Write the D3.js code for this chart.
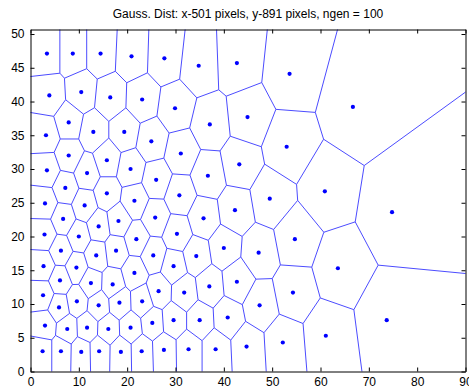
<!DOCTYPE html>
<html>
<head>
<meta charset="utf-8">
<script src="https://cdn.jsdelivr.net/npm/d3@7"></script>
<style>
  body { margin: 0; background: #fff; }
  svg { display: block; font-family: "Liberation Sans", Arial, sans-serif; }
</style>
</head>
<body>
<div id="chart"></div>
<script>
const TITLE = 'Gauss. Dist: x-501 pixels, y-891 pixels, ngen = 100';

// generator points
const ptX = [
  3.4, 8.75, 14.5, 20.9, 27.7, 3.9, 10.5, 16.5, 23.1, 29.9,
  3.2, 7.9, 13.0, 19.4, 25.0, 7.9, 15.8, 3.4, 11.7, 20.7,
  26.0, 7.2, 15.8, 21.5, 3.0, 11.2, 25.8, 6.75, 14.1, 18.2,
  30.3, 2.9, 10.0, 21.9, 6.3, 13.6, 17.7, 25.4, 2.7, 9.5,
  21.5, 29.6, 6.1, 12.5, 17.0, 26.5, 2.6, 9.6, 5.9, 14.1,
  18.4, 23.1, 29.6, 3.0, 7.6, 11.7, 16.1, 20.7, 25.2, 2.5,
  6.3, 10.5, 14.2, 18.7, 23.0, 27.6, 34.8, 42.7, 53.6, 37.1,
  44.9, 53.0, 31.1, 43.2, 36.7, 30.8, 49.5, 42.3, 35.8, 54.7,
  40.0, 34.3, 47.2, 42.7, 37.0, 31.8, 54.3, 47.4, 35.0, 40.8,
  52.2, 32.7, 38.3, 44.7, 66.7, 60.9, 74.8, 63.6, 73.7, 61.1
];
const ptY = [
  47.1, 47.1, 47.1, 46.7, 46.4, 40.9, 41.4, 40.6, 40.3, 39.0,
  35.0, 36.9, 35.5, 35.5, 34.1, 32.0, 31.3, 29.8, 29.4, 30.0,
  28.4, 27.2, 26.4, 25.3, 24.9, 24.6, 22.8, 22.6, 21.5, 22.3,
  20.4, 20.3, 20.0, 19.6, 17.9, 17.2, 17.9, 17.2, 15.6, 15.4,
  14.6, 15.6, 13.5, 13.1, 12.9, 11.9, 11.3, 10.4, 9.5, 9.8,
  10.2, 10.4, 7.6, 6.8, 6.3, 6.5, 6.3, 6.5, 7.2, 3.0,
  3.0, 2.9, 3.0, 2.9, 3.0, 3.2, 45.3, 45.7, 44.1, 36.6,
  37.7, 33.3, 32.3, 30.7, 29.0, 26.1, 25.6, 23.9, 22.7, 19.6,
  18.3, 17.1, 17.6, 13.3, 12.6, 11.7, 11.7, 9.8, 7.6, 8.0,
  4.3, 3.3, 3.3, 3.7, 39.2, 26.7, 23.6, 15.3, 7.6, 5.3
];

const xTicks = [0, 10, 20, 30, 40, 50, 60, 70, 80, 90];
const yTicks = [0, 5, 10, 15, 20, 25, 30, 35, 40, 45, 50];
const X_MAX = 90;
const Y_MAX = 50.67;

const WIDTH = 469;
const HEIGHT = 389;
const LEFT = 30.5, RIGHT = 465.5, TOP = 29.5, BOTTOM = 371.5;
const TICK = 4;

const scaleX = d3.scaleLinear().domain([0, X_MAX]).range([LEFT, RIGHT]);
const scaleY = d3.scaleLinear().domain([0, Y_MAX]).range([BOTTOM, TOP]);

const svg = d3
  .select('#chart')
  .append('svg')
  .attr('width', WIDTH)
  .attr('height', HEIGHT);

// voronoi computed in data space, drawn through the scales
const points = ptX.map((x, i) => [x, ptY[i]]);
const voronoi = d3.Delaunay.from(points).voronoi([0, 0, X_MAX, Y_MAX]);

function scaledPath() {
  let s = '';
  return {
    moveTo(x, y) { s += `M${scaleX(x)},${scaleY(y)}`; },
    lineTo(x, y) { s += `L${scaleX(x)},${scaleY(y)}`; },
    closePath() { s += 'Z'; },
    toString() { return s; },
  };
}
const mesh = scaledPath();
voronoi.render(mesh);

svg
  .append('path')
  .attr('d', mesh.toString())
  .attr('fill', 'none')
  .attr('stroke', '#4c4cff')
  .attr('stroke-width', 1);

// points
svg
  .append('g')
  .selectAll('circle')
  .data(points)
  .join('circle')
  .attr('cx', (d) => scaleX(d[0]))
  .attr('cy', (d) => scaleY(d[1]))
  .attr('r', 2.1)
  .attr('fill', '#0000ff');

// axes: frame with inward ticks on all sides
const axisBottom = d3.axisBottom(scaleX).tickValues(xTicks).tickSizeInner(-TICK).tickSizeOuter(0).tickPadding(6);
const axisTop = d3.axisTop(scaleX).tickValues(xTicks).tickSizeInner(-TICK).tickSizeOuter(0).tickFormat('');
const axisLeft = d3.axisLeft(scaleY).tickValues(yTicks).tickSizeInner(-TICK).tickSizeOuter(0).tickPadding(6);
const axisRight = d3.axisRight(scaleY).tickValues(yTicks).tickSizeInner(-TICK).tickSizeOuter(0).tickFormat('');

svg.append('g').attr('transform', `translate(0,${BOTTOM})`).call(axisBottom);
svg.append('g').attr('transform', `translate(0,${TOP})`).call(axisTop);
svg.append('g').attr('transform', `translate(${LEFT},0)`).call(axisLeft);
svg.append('g').attr('transform', `translate(${RIGHT},0)`).call(axisRight);

svg.selectAll('.domain').attr('stroke', '#000');
svg.selectAll('.tick line').attr('stroke', '#000');
svg
  .selectAll('.tick text')
  .attr('fill', '#000')
  .attr('font-size', 12)
  .attr('font-family', '"Liberation Sans", Arial, sans-serif');

// title
svg
  .append('text')
  .attr('x', (LEFT + RIGHT) / 2)
  .attr('y', 18)
  .attr('text-anchor', 'middle')
  .attr('font-size', 12)
  .attr('fill', '#000')
  .text(TITLE);
</script>
</body>
</html>
